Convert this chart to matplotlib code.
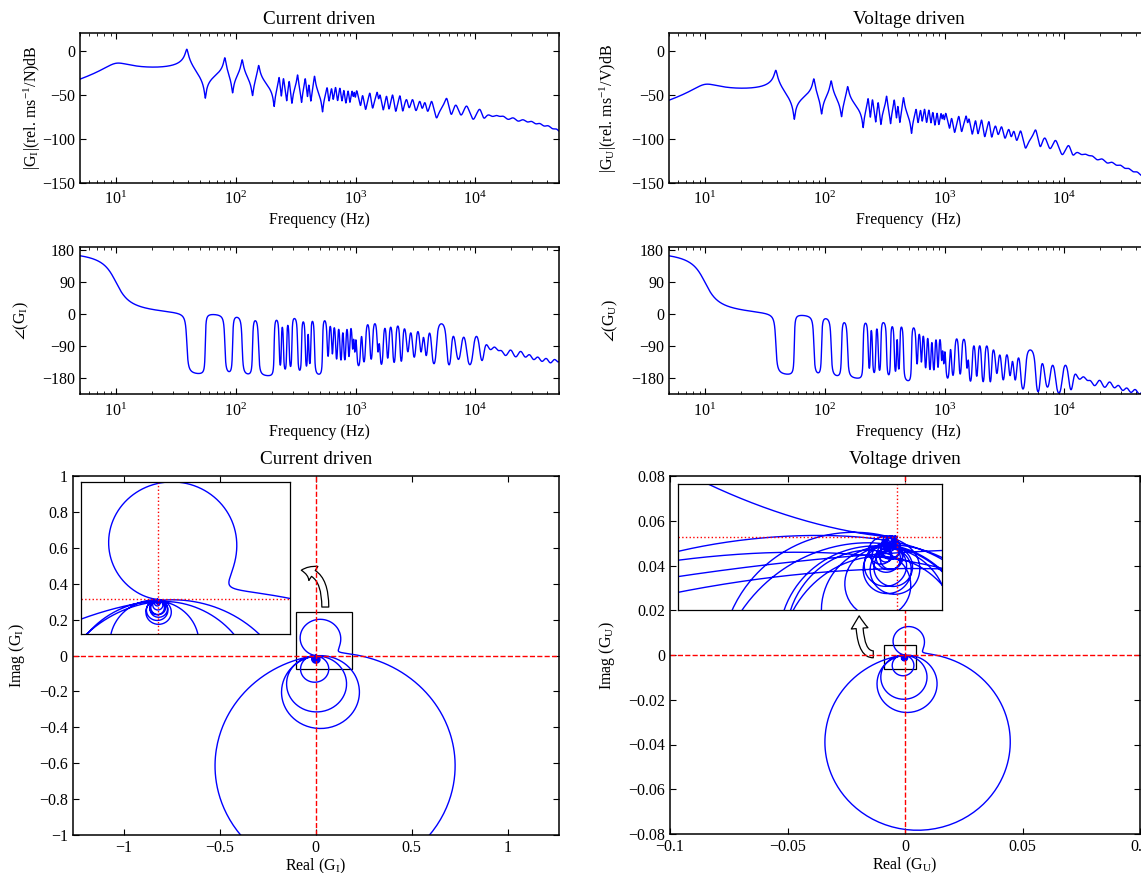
import numpy as np
import matplotlib.pyplot as plt
from matplotlib.patches import Rectangle, FancyArrowPatch
from matplotlib.ticker import FuncFormatter, LogLocator, NullFormatter

plt.rcParams['font.family'] = ['Liberation Serif', 'DejaVu Serif']
plt.rcParams['mathtext.fontset'] = 'custom'
plt.rcParams['mathtext.rm'] = 'Liberation Serif'
plt.rcParams['mathtext.it'] = 'Liberation Serif:italic'
plt.rcParams['font.size'] = 11.5
plt.rcParams['axes.linewidth'] = 1.1

# suspension mode of the actuator
f_susp = 10.0
zeta_susp = 0.2
level_susp_db = -14.0          # |G_I| at f_susp

# structural resonances (poles) and anti-resonances (zeros), Hz
f_res = [39, 81, 113, 155, 230, 250, 279, 328, 380, 407, 454,
         579, 631, 681, 740, 798, 867, 937, 975,
         1020, 1144, 1316, 1516, 1596, 1815, 2038, 2347,
         2666, 2994, 3444, 3791, 4315, 5765,
         6870, 8450, 10900,
         12800, 15050, 17100, 20700, 25100, 29500, 34600, 40700, 47800]
f_anti = [55.6, 94, 138, 209, 240, 266, 294, 354, 397, 423, 530,
          600, 650, 708, 770, 830, 896, 955, 995,
          1101, 1212, 1387, 1560, 1702, 1900, 2164, 2475,
          2800, 3192, 3600, 4000, 4740, 6300,
          7600, 9600, 11800,
          13900, 16000, 18800, 22800, 27200, 32000, 37500, 44100, 51700]
zeta_res = [0.0195, 0.014, 0.014, 0.014,
            0.01, 0.01, 0.01, 0.01, 0.01, 0.01, 0.01,
            0.013, 0.013, 0.013, 0.013, 0.013, 0.013, 0.013, 0.013,
            0.016, 0.016, 0.016, 0.016, 0.016, 0.016, 0.016, 0.016,
            0.025, 0.025, 0.025, 0.025, 0.025, 0.025,
            0.04, 0.04, 0.04,
            0.08, 0.08, 0.08, 0.08, 0.08, 0.08, 0.08, 0.08, 0.08]
zeta_anti = [0.009, 0.01, 0.01, 0.008,
             0.008, 0.008, 0.008, 0.008, 0.008, 0.008, 0.008,
             0.012, 0.012, 0.012, 0.012, 0.012, 0.012, 0.012, 0.012,
             0.016, 0.016, 0.016, 0.016, 0.016, 0.016, 0.016, 0.016,
             0.025, 0.025, 0.025, 0.025, 0.025, 0.025,
             0.04, 0.04, 0.04,
             0.08, 0.08, 0.08, 0.08, 0.08, 0.08, 0.08, 0.08, 0.08]

# sensor delay
delay = 3.5e-6

# voltage drive: amplifier gain and coil pole
drive_gain_db = -24.0
f_coil = 1500.0

freq = np.logspace(np.log10(5), np.log10(5e4), 9000)       # Bode range
freq_nyq = np.logspace(0, np.log10(5e4), 14000)            # Nyquist range


def quad(s, fn, zeta):
    w = 2 * np.pi * fn
    return s**2 + 2 * zeta * w * s + w**2


def current_response(f):
    s = 2j * np.pi * np.asarray(f, dtype=float)
    g = s**2 / quad(s, f_susp, zeta_susp)
    for fp, fz, zp, zz in zip(f_res, f_anti, zeta_res, zeta_anti):
        g = g * quad(s, fz, zz) / quad(s, fp, zp)
    return g * np.exp(-s * delay)


gain_i = 10**(level_susp_db / 20) / abs(current_response([f_susp])[0])


def responses(f):
    s = 2j * np.pi * f
    gi = gain_i * current_response(f)
    gu = gi * 10**(drive_gain_db / 20) / (1 + s / (2 * np.pi * f_coil))
    return gi, gu


G_I, G_U = responses(freq)
N_I, N_U = responses(freq_nyq)

W, H = 1141, 873
fig = plt.figure(figsize=(W / 100, H / 100), dpi=100)


def px_axes(x0, y0, x1, y1):
    return fig.add_axes([x0 / W, 1 - y1 / H, (x1 - x0) / W, (y1 - y0) / H])


def place_ylabel(ax, x_px):
    # centre the y label on a given figure pixel column
    bb = ax.get_position()
    ax.yaxis.label.set_va('center')
    ax.yaxis.set_label_coords((x_px / W - bb.x0) / bb.width, 0.5)


def style(ax):
    ax.tick_params(which='both', direction='in', top=True, right=True)
    ax.tick_params(which='major', length=4.5, width=0.8)
    ax.tick_params(which='minor', length=2.5, width=0.6)


def num(v, pos=None):
    if abs(v) < 1e-12:
        v = 0.0
    return f'{v:g}'.replace('-', '\u2212')


def bode(ax_m, ax_p, G, sub, unit, xlab, title, lab_x):
    ax_m.semilogx(freq, 20 * np.log10(np.abs(G)), color='blue', lw=1.0)
    ph = np.degrees(np.unwrap(np.angle(G)))
    ax_p.semilogx(freq, ph, color='blue', lw=1.0)
    for ax in (ax_m, ax_p):
        ax.set_xlim(5, 5e4)
        ax.xaxis.set_major_locator(LogLocator(base=10, numticks=10))
        ax.xaxis.set_minor_locator(LogLocator(base=10, subs=np.arange(2, 10), numticks=10))
        ax.xaxis.set_minor_formatter(NullFormatter())
        ax.yaxis.set_major_formatter(FuncFormatter(num))
        style(ax)
        ax.tick_params(axis='x', which='major', pad=6)
        ax.set_xlabel(xlab, labelpad=3)
    ax_m.set_ylim(-150, 20)
    ax_m.set_yticks([0, -50, -100, -150])
    ax_m.set_ylabel('|G$_\\mathrm{' + sub + '}$|(rel. ms$^{-1}$/' + unit + ')dB')
    ax_m.set_title(title, pad=7)
    ax_p.set_ylim(-227, 190)
    ax_p.set_yticks([180, 90, 0, -90, -180])
    ax_p.set_ylabel('$\\angle$(G$_\\mathrm{' + sub + '}$)')
    place_ylabel(ax_m, lab_x[0])
    place_ylabel(ax_p, lab_x[1])


def nyquist(ax, ins, G, sub, title, lim, ticks, box, ins_lim, arrow, conn, lab_x):
    ax.plot(G.real, G.imag, color='blue', lw=1.0)
    ax.axhline(0, color='red', ls='--', lw=1.0)
    ax.axvline(0, color='red', ls='--', lw=1.0)
    ax.set_xlim(lim[0])
    ax.set_ylim(lim[1])
    ax.set_xticks(ticks[0])
    ax.set_yticks(ticks[1])
    ax.xaxis.set_major_formatter(FuncFormatter(num))
    ax.yaxis.set_major_formatter(FuncFormatter(num))
    style(ax)
    ax.set_title(title, pad=9)
    ax.set_xlabel('Real (G$_\\mathrm{' + sub + '}$)', labelpad=1)
    ax.set_ylabel('Imag (G$_\\mathrm{' + sub + '}$)')
    place_ylabel(ax, lab_x)
    (bx0, bx1), (by0, by1) = box
    ax.add_patch(Rectangle((bx0, by0), bx1 - bx0, by1 - by0, fill=False,
                           ec='black', lw=0.9))
    ax.add_patch(FancyArrowPatch(arrow[0], arrow[1], connectionstyle=conn,
                                 arrowstyle='simple,head_width=12,head_length=9,tail_width=5',
                                 shrinkA=0, shrinkB=0,
                                 fc='white', ec='black', lw=0.9))

    ins.plot(G.real, G.imag, color='blue', lw=1.0)
    ins.axhline(0, color='red', ls=':', lw=1.0)
    ins.axvline(0, color='red', ls=':', lw=1.0)
    ins.set_xlim(ins_lim[0])
    ins.set_ylim(ins_lim[1])
    ins.set_xticks([])
    ins.set_yticks([])
    for sp in ins.spines.values():
        sp.set_linewidth(0.9)


ax_mag_i = px_axes(80, 33.4, 559, 182.7)
ax_mag_u = px_axes(669, 33.4, 1148, 182.7)
ax_ph_i = px_axes(80, 246.8, 559, 394.3)
ax_ph_u = px_axes(669, 246.8, 1148, 394.3)
ax_nyq_i = px_axes(72.7, 476, 558.7, 835)
ax_nyq_u = px_axes(670, 476, 1140, 834)
ins_i = px_axes(81.4, 481.7, 290.4, 634.3)
ins_u = px_axes(677.8, 483.7, 942.2, 610)

bode(ax_mag_i, ax_ph_i, G_I, 'I', 'N', 'Frequency (Hz)', 'Current driven', (32, 21))
bode(ax_mag_u, ax_ph_u, G_U, 'U', 'V', 'Frequency  (Hz)', 'Voltage driven', (608, 610))

nyquist(ax_nyq_i, ins_i, N_I, 'I', 'Current driven',
        ((-1.265, 1.265), (-1, 1)),
        ([-1, -0.5, 0, 0.5, 1], np.round(np.arange(-1, 1.01, 0.2), 1)),
        ((-0.104, 0.191), (-0.073, 0.244)),
        ((-0.126, 0.219), (-0.06, 0.202)),
        ((0.05, 0.27), (-0.075, 0.475)), 'angle3,angleA=90,angleB=0', 17)
nyquist(ax_nyq_u, ins_u, N_U, 'U', 'Voltage driven',
        ((-0.1, 0.1), (-0.08, 0.08)),
        ([-0.1, -0.05, 0, 0.05, 0.1], np.round(np.arange(-0.08, 0.081, 0.02), 2)),
        ((-0.009, 0.0047), (-0.0061, 0.0043)),
        ((-0.0018, 0.00037), (-0.0006, 0.00044)),
        ((-0.0135, 0.0003), (-0.0195, 0.0175)), 'angle3,angleA=0,angleB=90', 607)

fig.savefig('out.png', dpi=100, facecolor='white')
